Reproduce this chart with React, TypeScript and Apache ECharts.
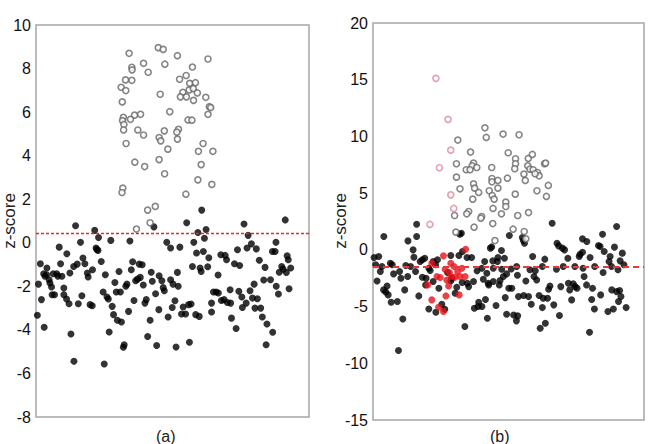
import React, { useEffect, useRef } from "react";
import * as echarts from "echarts";

// Panel (a): sample position (0-100 across the panel) and z-score
const aThreshold = 0.45;
const aAbove: [number, number][] = [
  [34.1, 8.7], [44.8, 8.96], [46.6, 8.88], [51.8, 8.59], [63.0, 8.44], [35.1, 8.06], [35.2, 7.94],
  [39.4, 8.24], [41.1, 7.83], [47.2, 8.2], [57.3, 8.07], [32.8, 7.48], [35.1, 7.46], [31.2, 7.14],
  [32.9, 6.99], [52.6, 7.51], [55.0, 7.68], [56.3, 7.32], [58.4, 7.35], [45.5, 6.82], [53.8, 6.91],
  [56.1, 7.02], [57.6, 7.08], [59.1, 6.88], [52.9, 6.7], [55.1, 6.7], [57.7, 6.54], [62.2, 6.68],
  [31.6, 6.47], [63.5, 6.25], [64.0, 6.21], [63.0, 5.9], [49.0, 6.02], [36.1, 5.86], [38.3, 5.9],
  [34.6, 5.67], [32.0, 5.76], [31.7, 5.61], [32.2, 5.43], [32.1, 5.18], [55.7, 5.64], [57.1, 5.63],
  [37.3, 5.18], [39.4, 4.95], [47.0, 5.14], [52.2, 5.21], [51.6, 5.08], [45.1, 4.83], [45.7, 4.68],
  [51.8, 4.76], [33.0, 4.56], [61.2, 4.56], [59.5, 4.2], [64.8, 4.2], [48.3, 4.3], [36.2, 3.7],
  [39.8, 3.5], [45.1, 3.82], [60.5, 3.59], [47.1, 3.17], [59.3, 2.89], [64.4, 2.68], [31.8, 2.51],
  [31.5, 2.31], [54.9, 2.23], [40.9, 1.5], [43.7, 1.67], [41.8, 0.92], [36.8, 0.63],
];
const aBelow: [number, number][] = [
  [0.5, -3.33], [0.9, -1.9], [1.6, -0.96], [2.0, -2.61], [3.0, -3.88], [2.8, -1.42], [4.0, -1.16],
  [3.3, -1.54], [4.8, -1.7], [5.1, -1.85], [5.7, -2.03], [5.9, -2.39], [6.8, -2.39], [3.9, -1.47],
  [7.6, -1.42], [8.5, -0.2], [9.0, -0.96], [9.5, -1.54], [10.2, -2.08], [10.2, -2.39], [11.2, -2.58],
  [11.3, -0.5], [12.1, -2.8], [12.8, -4.19], [13.9, -5.44], [13.8, -1.09], [14.5, 0.78], [15.1, -0.98],
  [15.5, -2.8], [16.3, 0.02], [16.8, -2.43], [17.2, -0.7], [17.9, -0.96], [18.8, -1.39], [19.1, -1.57],
  [19.8, -2.84], [20.6, -2.89], [21.5, 0.57], [22.0, -0.24], [22.7, -0.35], [22.3, -0.31], [22.9, 0.24],
  [23.9, -0.86], [24.6, -2.26], [25.0, -5.57], [25.4, -1.47], [26.0, -2.49], [26.5, -2.58], [26.8, -4.1],
  [27.4, 0.11], [27.9, -2.92], [28.4, -3.3], [28.9, -1.82], [29.4, -2.26], [29.8, -3.56], [30.9, -2.26],
  [31.3, -3.64], [32.0, -4.8], [32.3, -4.68], [32.9, -2.0], [33.3, -1.9], [33.9, -3.15], [34.4, 0.08],
  [35.4, -0.87], [35.9, -2.65], [36.5, -1.74], [37.2, -1.67], [37.8, -0.98], [38.9, -1.01], [39.3, -1.94],
  [39.9, -2.77], [40.4, -2.61], [40.9, -4.3], [41.8, -3.56], [42.2, -1.35], [42.6, -1.77], [43.2, 0.73],
  [43.8, -2.34], [44.2, -4.72], [45.0, -3.07], [45.1, -1.51], [46.1, -1.74], [46.6, -2.06], [47.0, -2.2],
  [47.9, 0.02], [48.4, -3.41], [49.3, -0.24], [49.3, -1.7], [49.9, -2.97], [50.2, -1.9], [50.9, -2.66],
  [51.3, -4.79], [51.8, -1.36], [52.1, -2.0], [52.7, -0.2], [53.3, -3.27], [53.9, -2.95], [54.8, -3.27],
  [55.2, 0.92], [55.9, -2.84], [56.2, -4.57], [56.8, -2.81], [57.3, -1.09], [57.8, 0.02], [58.5, -3.3],
  [58.8, -0.47], [59.8, -3.38], [60.1, -1.16], [60.7, 1.5], [60.5, -1.32], [61.3, -0.4], [61.7, 0.21],
  [62.3, 0.61], [62.9, -1.1], [63.3, -0.69], [64.3, -2.77], [64.3, -3.18], [65.0, -2.26], [66.0, -2.26],
  [66.8, -2.31], [66.7, -1.48], [67.7, -0.55], [67.9, -2.65], [68.9, -2.61], [69.3, -0.58], [69.8, -0.78],
  [70.1, -2.74], [71.3, -2.77], [71.6, -3.46], [71.1, -2.16], [72.7, -0.96], [73.3, -3.94], [73.8, -0.32],
  [74.3, -2.23], [74.6, -1.04], [75.4, -2.49], [75.6, -2.97], [76.2, 0.86], [77.0, -2.77], [77.3, -0.24],
  [77.7, 0.34], [78.4, -2.2], [78.9, -0.05], [79.3, -2.54], [79.9, -1.9], [80.2, -3.0], [80.7, -0.28],
  [81.1, -2.57], [81.8, -0.8], [82.3, -3.0], [82.9, -3.41], [83.4, -1.71], [84.3, -4.68], [84.6, -3.73],
  [85.9, -1.7], [86.7, -4.11], [86.6, -0.4], [87.6, -0.4], [88.0, -2.0], [87.9, 0.02], [88.8, -2.35],
  [90.0, -1.09], [90.5, -1.21], [91.3, 1.05], [92.0, -0.6], [92.4, -0.78], [91.7, -1.36], [92.7, -2.11],
  [93.3, -1.16], [12.4, -1.39], [6.3, -1.42], [8.0, -1.53], [20.7, -1.24], [30.4, -1.32], [34.9, -1.24],
  [38.2, -1.59], [83.9, -1.13], [89.1, -1.35], [59.3, 0.47],
];

// Panel (b)
const bThreshold = -1.5;
const bAbove: [number, number][] = [
  [41.3, 10.76], [41.8, 9.91], [48.0, 10.21], [53.9, 10.15], [31.3, 9.68], [36.0, 8.62], [49.9, 8.56],
  [30.8, 7.59], [37.1, 7.65], [36.6, 7.41], [38.3, 7.26], [34.4, 7.06], [35.8, 7.06], [43.8, 7.26],
  [52.6, 8.03], [52.6, 7.59], [52.3, 7.15], [57.3, 8.06], [58.8, 8.41], [57.1, 7.41], [57.9, 7.12],
  [59.1, 7.06], [60.7, 6.82], [61.3, 6.53], [59.8, 6.71], [63.3, 7.59], [63.7, 7.65], [55.7, 6.68],
  [30.8, 6.41], [43.9, 6.29], [43.9, 6.0], [46.1, 6.12], [49.6, 6.32], [56.2, 6.12], [37.1, 5.82],
  [37.5, 5.44], [39.0, 5.06], [32.1, 5.38], [42.9, 5.21], [44.0, 4.79], [44.7, 4.47], [46.1, 5.44],
  [64.7, 5.68], [60.5, 5.21], [64.0, 4.71], [52.5, 4.91], [36.8, 4.47], [49.0, 4.21], [49.0, 3.82],
  [44.3, 3.65], [30.1, 3.03], [35.3, 3.38], [34.6, 3.18], [40.1, 2.94], [39.8, 2.79], [47.4, 3.18],
  [53.4, 3.03], [57.4, 3.29], [37.3, 2.0], [44.2, 2.32], [51.7, 1.82], [30.6, 1.56], [55.8, 1.62],
  [56.4, 0.97], [45.0, 0.82],
];
const bAboveFlagged: [number, number][] = [
  [23.2, 15.12], [27.7, 11.5], [28.7, 8.79], [24.5, 7.24], [28.7, 4.85], [29.8, 3.65], [21.0, 2.24],
];
const bBelowFlagged: [number, number][] = [
  [34.2, 0.06], [26.0, -0.53], [21.7, -1.18], [28.7, -1.18], [29.9, -1.47], [32.8, -1.62], [26.6, -1.71],
  [28.2, -2.0], [31.2, -1.91], [23.6, -2.35], [24.8, -2.44], [28.8, -2.35], [30.3, -2.41], [32.1, -2.35],
  [34.0, -2.35], [27.2, -2.65], [20.2, -3.09], [27.9, -3.18], [31.8, -3.97], [26.9, -4.06], [21.7, -4.41],
  [24.2, -5.06], [26.0, -5.44],
];
const bBelow: [number, number][] = [
  [0.4, -0.68], [1.0, -1.32], [1.5, -2.74], [2.1, -0.59], [2.7, -1.91], [3.3, -1.47], [4.0, 1.18],
  [3.9, -3.53], [4.7, -3.71], [5.2, -3.18], [5.6, -3.97], [6.4, -1.18], [6.7, -4.62], [7.1, -1.32],
  [7.6, -2.12], [9.0, -4.56], [9.4, -8.88], [9.8, -1.91], [10.3, -2.5], [11.0, -6.09], [11.7, -3.53],
  [12.1, -1.38], [12.8, -2.35], [12.9, 0.79], [13.9, -1.47], [14.8, 0.0], [15.1, -0.65], [15.7, -1.91],
  [16.1, 2.26], [16.1, 1.18], [16.9, -4.06], [17.4, -1.03], [18.2, -0.88], [18.2, -2.41], [19.1, -0.74],
  [19.6, -2.5], [20.6, -5.21], [20.6, -1.62], [21.1, -1.82], [22.2, -1.03], [22.2, -2.79], [23.2, -5.5],
  [23.8, -0.88], [24.3, -3.38], [25.4, -4.79], [26.5, -5.24], [27.5, -2.0], [28.7, -0.5], [28.7, -2.74],
  [29.2, -2.5], [30.3, -3.82], [30.9, -3.29], [31.7, -0.5], [32.0, 1.38], [32.6, 1.47], [33.0, -0.15],
  [32.9, -2.88], [33.9, -6.76], [34.7, -0.68], [34.8, -2.94], [36.4, -0.68], [37.4, -5.15], [38.4, -1.85],
  [38.8, -5.0], [39.0, -4.62], [40.2, -1.62], [40.2, -5.0], [40.7, -2.59], [41.2, -1.03], [41.5, -4.38],
  [42.2, -6.03], [42.5, -2.94], [43.3, 0.15], [43.8, 0.26], [44.2, -0.97], [44.4, -2.79], [45.4, -4.91],
  [45.9, -1.03], [46.1, -0.68], [46.6, -3.09], [46.9, -2.71], [47.4, -0.06], [48.1, -2.35], [48.5, -0.74],
  [48.8, -4.21], [49.3, -5.68], [50.3, 1.26], [51.0, -1.68], [51.2, -3.38], [51.9, -5.74], [52.9, -6.26],
  [53.4, -5.82], [53.3, -2.24], [53.7, -4.12], [55.1, 1.09], [55.5, 0.82], [55.6, -4.03], [55.9, 0.59],
  [56.4, -2.74], [57.4, -4.12], [58.4, -4.79], [58.9, -0.59], [59.4, -2.35], [59.9, -1.85], [60.4, -2.65],
  [61.3, -4.03], [61.7, -6.91], [62.5, -5.09], [62.8, -4.26], [63.4, -0.82], [63.6, -6.47], [64.4, -4.26],
  [64.8, -3.47], [65.3, -3.18], [66.1, 2.35], [66.7, -4.85], [67.9, 0.59], [68.5, 0.35], [68.8, -5.79],
  [69.3, -3.24], [69.9, 0.15], [70.7, 0.0], [67.7, -1.71], [71.9, -0.74], [72.1, -2.94], [72.6, -3.53],
  [73.3, -4.41], [73.9, -3.0], [74.6, -3.24], [75.3, -3.38], [76.1, -0.59], [76.4, -0.38], [77.3, -0.21],
  [77.3, 0.97], [77.9, -2.35], [78.9, 0.74], [78.8, -3.09], [79.9, -7.26], [80.1, -0.68], [80.7, -4.38],
  [81.0, -3.38], [81.7, -5.21], [81.8, -1.47], [83.2, 0.38], [83.8, 0.29], [84.0, -3.97], [84.7, 1.38],
  [84.9, -2.0], [85.3, -0.15], [86.7, -5.44], [87.5, -0.59], [87.1, -1.03], [88.0, -1.47], [88.7, -5.21],
  [89.1, 0.24], [89.9, 2.06], [90.4, -1.76], [90.6, -4.56], [91.2, -0.97], [91.0, -3.59], [91.5, -4.12],
  [92.0, -0.29], [92.6, -1.32], [93.4, -5.09], [23.1, -1.32], [44.4, -1.62], [47.5, -1.71], [57.9, -1.76],
  [62.5, -1.47], [70.2, -1.47], [74.5, -1.47], [77.5, -1.62], [53.0, -1.47], [42.0, -2.06], [49.3, -2.12],
  [37.1, -2.79], [19.4, -3.09], [35.3, -3.24], [42.7, -3.09], [50.1, -3.38], [88.1, -3.53], [89.9, -3.68],
];

const FONT = "'Liberation Sans', Arial, Helvetica, sans-serif";
const AXIS_TITLE = "z-score";

function yAxisFor(gridIndex: number, min: number, max: number, interval: number) {
  return {
    gridIndex,
    type: "value",
    min,
    max,
    interval,
    axisLine: { show: false },
    axisTick: { show: false },
    splitLine: { show: false },
    axisLabel: { fontSize: 16, color: "#111", margin: 5, fontFamily: FONT },
  };
}

// Vertical axis title, reading bottom to top
const yTitle = (x: number, y: number) => ({
  type: "text",
  x,
  y,
  rotation: Math.PI / 2,
  style: { text: AXIS_TITLE, fontSize: 17, fill: "#222", fontFamily: FONT, align: "center", verticalAlign: "middle" },
});

const panelTag = (left: number, text: string) => ({
  type: "text", left, top: 428, style: { text, fontSize: 16, fill: "#222", fontFamily: FONT },
});

const filled = (color: string) => ({ color, borderWidth: 0 });
const ring = (color: string) => ({ color: "#ffffff", borderColor: color, borderWidth: 1.6 });

export default function App() {
  const ref = useRef<HTMLDivElement>(null);

  useEffect(() => {
    if (!ref.current) return;
    const chart = echarts.init(ref.current, undefined, { renderer: "svg" });
    chart.setOption({
      animation: false,
      backgroundColor: "#ffffff",
      grid: [
        { left: 36, top: 25, width: 273, height: 392, show: true, borderColor: "#a6a6a6", borderWidth: 1.5, outerBoundsMode: "none" },
        { left: 373, top: 23, width: 271, height: 397, show: true, borderColor: "#a6a6a6", borderWidth: 1.5, outerBoundsMode: "none" },
      ],
      xAxis: [
        { gridIndex: 0, type: "value", min: 0, max: 100, show: false },
        { gridIndex: 1, type: "value", min: 0, max: 100, show: false },
      ],
      yAxis: [yAxisFor(0, -8, 10, 2), yAxisFor(1, -15, 20, 5)],
      graphic: [yTitle(9, 221), yTitle(340, 221), panelTag(156, "(a)"), panelTag(490, "(b)")],
      series: [
        {
          type: "scatter", xAxisIndex: 0, yAxisIndex: 0, data: aBelow, symbolSize: 7,
          itemStyle: filled("#000000"),
          markLine: {
            silent: true, symbol: "none", label: { show: false },
            lineStyle: { color: "#e8282c", type: [3, 2], width: 1.3 },
            data: [{ yAxis: aThreshold }],
          },
        },
        { type: "scatter", xAxisIndex: 0, yAxisIndex: 0, data: aAbove, symbolSize: 6, itemStyle: ring("#666666") },
        {
          type: "scatter", xAxisIndex: 1, yAxisIndex: 1, data: bBelow, symbolSize: 7,
          itemStyle: filled("#000000"),
          markLine: {
            silent: true, symbol: "none", label: { show: false },
            lineStyle: { color: "#e8383a", type: [6, 4], width: 2 },
            data: [{ yAxis: bThreshold }],
          },
        },
        { type: "scatter", xAxisIndex: 1, yAxisIndex: 1, data: bBelowFlagged, symbolSize: 7, itemStyle: filled("#e8121a") },
        { type: "scatter", xAxisIndex: 1, yAxisIndex: 1, data: bAbove, symbolSize: 6, itemStyle: ring("#666666") },
        { type: "scatter", xAxisIndex: 1, yAxisIndex: 1, data: bAboveFlagged, symbolSize: 6, itemStyle: ring("#d98a9a") },
      ],
    });
    return () => chart.dispose();
  }, []);

  return <div ref={ref} style={{ position: "fixed", left: 0, top: 0, width: 649, height: 444 }} />;
}
